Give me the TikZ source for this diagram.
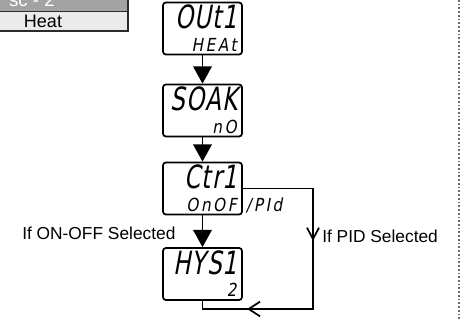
\documentclass[tikz,border=0pt]{standalone}
\usepackage{fontspec}
\setmainfont{Liberation Sans}
\newfontfamily\lcdfont{DejaVu Sans}[FakeSlant=0.18,FakeStretch=0.72,LetterSpace=4]
\newfontfamily\lcdsmallfont{DejaVu Sans}[FakeSlant=0.18,FakeStretch=0.85,LetterSpace=14]
\usetikzlibrary{arrows.meta,calc,decorations.markings}
\definecolor{hdrgray}{HTML}{A3A3A3}
\definecolor{rowgray}{HTML}{EBEBEB}
\definecolor{edgegray}{HTML}{2B2B2B}
\definecolor{dotgray}{HTML}{6A6A6A}
\tikzset{
  display/.style={draw=black, line width=1.3pt, rounded corners=2.2pt, fill=white,
    minimum width=59.25pt, minimum height=39pt, inner sep=0pt},
  lcdbig/.style={inner sep=0pt, font=\lcdfont\fontsize{24pt}{24pt}\selectfont},
  lcdsmall/.style={inner sep=0pt, font=\lcdsmallfont\fontsize{13.5pt}{13.5pt}\selectfont},
  label/.style={inner sep=0pt, font=\fontsize{13pt}{13pt}\selectfont},
  flow/.style={line width=1.3pt, -{Triangle[width=14pt,length=13pt]}},
  conn/.style={line width=1.3pt},
}
\begin{document}
\begin{tikzpicture}[x=0.75pt,y=-0.75pt]
\useasboundingbox (0,0) rectangle (466,320);
% header table fragment
\begin{scope}
  \clip (0,0) rectangle (128.5,11.5);
  \fill[hdrgray] (0,0) rectangle (128,11.5);
  \node[label, text=white, anchor=base east, font=\fontsize{14pt}{14pt}\selectfont] (hdr) at (55,7) {sc - 2};
\end{scope}
\fill[rowgray] (0,12) rectangle (128,31);
\draw[edgegray, line width=0.8pt] (0,11.7) -- (128,11.7);
\draw[edgegray, line width=1.3pt] (0,31) -- (128,31) -- (128,0);
\node[label, anchor=base, font=\fontsize{13.5pt}{13.5pt}\selectfont] (heat) at (43,28) {Heat};
% displays
\node[display] (d1) at (202.5,28.5) {};
\node[display] (d2) at (202.5,110.5) {};
\node[display] (d3) at (202.5,188.5) {};
\node[display] (d4) at (202.5,274) {};
\node[lcdbig, anchor=base east] (t1a) at ($(d1.north east)+(-5,27)$) {OUt1};
\node[lcdsmall, anchor=base east] (t1b) at ($(d1.south east)+(-6,-4)$) {HEAt};
\node[lcdbig, anchor=base east] (t2a) at ($(d2.north east)+(-5,27)$) {SOAK};
\node[lcdsmall, anchor=base east] (t2b) at ($(d2.south east)+(-6,-4)$) {nO};
\node[lcdbig, anchor=base east] (t3a) at ($(d3.north east)+(-5,27)$) {Ctr1};
\node[lcdsmall, anchor=base east] (t3b) at ($(d3.south east)+(-6,-4)$) {OnOF};
\node[lcdsmall, anchor=base west] (t3c) at ($(d3.south east)+(3,-4)$) {/PId};
\node[lcdbig, anchor=base east] (t4a) at ($(d4.north east)+(-5,27)$) {HYS1};
\node[lcdsmall, anchor=base east] (t4b) at ($(d4.south east)+(-6,-4)$) {2};
% vertical flow arrows
\draw[flow] (d1) -- (d2);
\draw[flow] (d2) -- (d3);
\draw[flow] (d3) -- (d4);
% PID bypass
\coordinate (rc) at (313,309);
\coordinate (lc) at (202.5,309);
\draw[conn, postaction={decorate}, decoration={markings,
    mark=at position 91.9pt with {\arrow{Straight Barb[length=8.5pt,width=9pt,line width=1.3pt]}},
    mark=at position 192.4pt with {\arrow{Straight Barb[length=8.5pt,width=11pt,line width=1.3pt]}}}]
  (d3.east) -- (d3.east -| rc) -- (rc) -- (lc) -- (d4.south);
% labels
\node[label, anchor=base west] (lonoff) at (22,239) {If ON-OFF Selected};
\node[label, anchor=base west] (lpid) at (322,242) {If PID Selected};
% dotted separator
\draw[dotgray, line width=1.3pt, dash pattern=on 1.3pt off 1.5pt] (459,0) -- (459,320);
\end{tikzpicture}
\end{document}
